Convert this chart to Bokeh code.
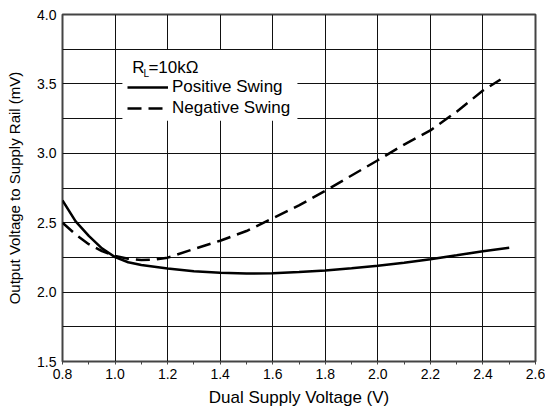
from bokeh.plotting import figure
from bokeh.models import (FixedTicker, Legend, LegendItem, BoxAnnotation, Label, Range1d,
                          PrintfTickFormatter)
from bokeh.embed import file_html
from bokeh.resources import INLINE

# Positive swing (solid)
pos_x = [0.80, 0.85, 0.90, 0.95, 1.00, 1.05, 1.10, 1.20, 1.30, 1.40, 1.50, 1.60,
         1.70, 1.80, 1.90, 2.00, 2.10, 2.20, 2.30, 2.40, 2.50]
pos_y = [2.66, 2.51, 2.405, 2.315, 2.252, 2.215, 2.195, 2.17, 2.15, 2.139, 2.134, 2.135,
         2.144, 2.156, 2.172, 2.19, 2.212, 2.237, 2.265, 2.295, 2.32]

# Negative swing (dashed)
neg_x = [0.80, 0.85, 0.90, 0.95, 1.00, 1.05, 1.10, 1.15, 1.20, 1.30, 1.40, 1.50, 1.60,
         1.70, 1.80, 1.90, 2.00, 2.10, 2.20, 2.30, 2.40, 2.467]
neg_y = [2.50, 2.415, 2.345, 2.295, 2.26, 2.24, 2.232, 2.235, 2.248, 2.31, 2.37, 2.44, 2.532,
         2.625, 2.73, 2.84, 2.95, 3.063, 3.165, 3.30, 3.452, 3.532]

x_ticks = [0.8, 1.0, 1.2, 1.4, 1.6, 1.8, 2.0, 2.2, 2.4, 2.6]
x_minor = [0.9, 1.1, 1.3, 1.5, 1.7, 1.9, 2.1, 2.3, 2.5]
y_ticks = [1.5, 2.0, 2.5, 3.0, 3.5, 4.0]
y_grid = [1.75, 2.0, 2.25, 2.5, 2.75, 3.0, 3.25, 3.5, 3.75]

FONT = "Liberation Sans"

p = figure(width=545, height=412, output_backend="svg", toolbar_location=None,
           x_range=Range1d(0.8, 2.6), y_range=Range1d(1.5, 4.0),
           min_border_left=62, min_border_right=10, min_border_top=14, min_border_bottom=51)
p.background_fill_color = "white"
p.border_fill_color = "white"
p.outline_line_color = "#444444"
p.outline_line_width = 2

p.xaxis.ticker = FixedTicker(ticks=x_ticks, minor_ticks=x_minor)
p.yaxis.ticker = FixedTicker(ticks=y_ticks)
p.xaxis.formatter = PrintfTickFormatter(format="%.1f")
p.yaxis.formatter = PrintfTickFormatter(format="%.1f")
p.xgrid.ticker = FixedTicker(ticks=x_ticks[1:-1])
p.ygrid.ticker = FixedTicker(ticks=y_grid)
for g in (p.xgrid, p.ygrid):
    g.grid_line_color = "#111111"
    g.grid_line_width = 1
    g.grid_line_alpha = 1.0

for ax in (p.xaxis, p.yaxis):
    ax.axis_line_color = None
    ax.major_label_text_font = FONT
    ax.major_label_text_font_size = "14px"
    ax.major_label_text_color = "black"
    ax.axis_label_text_font = FONT
    ax.axis_label_text_font_style = "normal"
    ax.axis_label_text_color = "black"
    ax.major_tick_in = 0
    ax.minor_tick_in = 0

p.xaxis.major_tick_out = 3
p.xaxis.minor_tick_out = 3
p.xaxis.major_tick_line_color = "#444444"
p.xaxis.minor_tick_line_color = "#444444"
p.xaxis.major_label_standoff = 4
p.xaxis.axis_label = "Dual Supply Voltage (V)"
p.xaxis.axis_label_text_font_size = "17px"
p.xaxis.axis_label_standoff = 6

p.yaxis.major_tick_out = 0
p.yaxis.minor_tick_out = 0
p.yaxis.major_tick_line_color = None
p.yaxis.minor_tick_line_color = None
p.yaxis.major_label_standoff = 6
p.yaxis.axis_label = "Output Voltage to Supply Rail (mV)"
p.yaxis.axis_label_text_font_size = "15px"
p.yaxis.axis_label_standoff = 11

r_pos = p.line(pos_x, pos_y, line_color="black", line_width=2.5)
r_neg = p.line(neg_x, neg_y, line_color="black", line_width=2.5, line_dash="14 7")

box = BoxAnnotation(left=1.028, right=1.694, top=3.745, bottom=3.235,
                    fill_color="white", fill_alpha=1.0, line_color=None)
p.add_layout(box)

legend = Legend(items=[LegendItem(label="Positive Swing", renderers=[r_pos]),
                       LegendItem(label="Negative Swing", renderers=[r_neg])],
                location=(65, 243), orientation="vertical",
                background_fill_alpha=0, border_line_color=None,
                padding=0, margin=0, spacing=1,
                glyph_width=41, glyph_height=20, label_height=20, label_standoff=4,
                label_text_font=FONT, label_text_font_size="17px", label_text_color="black")
p.add_layout(legend, "center")

p.add_layout(Label(x=1.065, y=3.618, text="R", text_font=FONT, text_font_size="17px",
                   text_baseline="alphabetic", text_color="black"))
p.add_layout(Label(x=1.108, y=3.572, text="L", text_font=FONT, text_font_size="10px",
                   text_baseline="alphabetic", text_color="black"))
p.add_layout(Label(x=1.127, y=3.618, text="=10k\u03a9", text_font=FONT, text_font_size="17px",
                   text_baseline="alphabetic", text_color="black"))

open("out.html", "w").write(file_html(p, INLINE))
